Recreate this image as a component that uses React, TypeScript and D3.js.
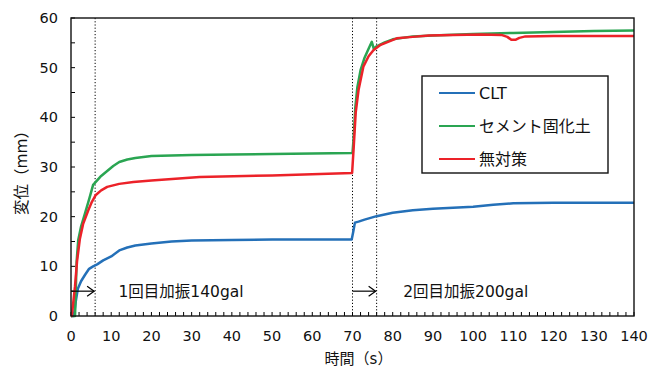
import React from "react";
import * as d3 from "d3";

// time (s) and displacement (mm)
const cltT = [0, 0.7, 1.2, 1.7, 2.5, 3.5, 4.5, 5.5, 6.5, 8, 10, 12, 14, 16, 20, 25, 30, 40, 50, 60, 69.8, 70.2, 70.6, 71.5, 73, 76, 80, 85, 90, 95, 100, 105, 110, 120, 130, 140];
const cltV = [0, 0, 3, 5.5, 7, 8.3, 9.5, 10, 10.4, 11.2, 12, 13.2, 13.8, 14.2, 14.6, 15, 15.2, 15.3, 15.4, 15.4, 15.4, 17, 18.8, 19, 19.4, 20.1, 20.8, 21.3, 21.6, 21.8, 22, 22.4, 22.7, 22.8, 22.8, 22.8];

const cementT = [0, 1, 1.4, 1.8, 2.5, 3.5, 4.5, 5.5, 6.5, 7.5, 9, 10.5, 12, 14, 16, 20, 30, 40, 50, 60, 70, 70.3, 70.7, 71.2, 72, 73, 74, 74.8, 75.3, 76, 78, 80, 85, 90, 100, 110, 120, 130, 140];
const cementV = [0, 0, 11, 15.3, 18, 20.7, 23.5, 26.4, 27.3, 28.2, 29.2, 30.2, 31, 31.5, 31.8, 32.2, 32.4, 32.5, 32.6, 32.7, 32.8, 36, 42, 46, 49.5, 52, 53.8, 55.2, 53.8, 54.3, 55.1, 55.7, 56.3, 56.5, 56.8, 57, 57.2, 57.4, 57.5];

const noneT = [0, 0.2, 1, 1.5, 2.2, 3, 4.3, 5.2, 6.1, 7.5, 9, 12, 15.5, 20, 32, 50, 69.9, 70.3, 70.8, 71.5, 72.7, 74, 75.2, 77, 81, 85, 89, 95, 102, 107, 108.5, 109.5, 110.5, 111.5, 113, 120, 130, 140];
const noneV = [0, 0, 6, 11, 15.5, 18.5, 21.3, 23, 24.3, 25.3, 26, 26.6, 27, 27.3, 28, 28.3, 28.8, 34, 41, 45.5, 50.2, 52.3, 53.5, 54.6, 55.9, 56.2, 56.5, 56.6, 56.7, 56.6, 56.2, 55.6, 55.6, 56, 56.3, 56.4, 56.4, 56.4];

const seriesNames = ["CLT", "セメント固化土", "無対策"];
const seriesColors = ["#2470b8", "#2aa552", "#ec2229"];

const xTicks = [0, 10, 20, 30, 40, 50, 60, 70, 80, 90, 100, 110, 120, 130, 140];
const yTicks = [0, 10, 20, 30, 40, 50, 60];
const markerTimes = [6, 70, 76];
const shakes = [
  { from: 0, to: 6, label: "1回目加振140gal", at: 11.8 },
  { from: 70, to: 76, label: "2回目加振200gal", at: 82.6 },
];

const W = 655, H = 371;
const left = 71, right = 634, top = 18, bottom = 316;
const font = "'DejaVu Sans', 'Noto Sans CJK JP', sans-serif";

export default function App() {
  const x = d3.scaleLinear().domain([0, 140]).range([left, right]);
  const y = d3.scaleLinear().domain([0, 60]).range([bottom, top]);

  const series = [
    { t: cltT, v: cltV },
    { t: cementT, v: cementV },
    { t: noneT, v: noneV },
  ];
  const path = (t: number[], v: number[]) =>
    d3.line<number>().x((_, i) => x(t[i])).y((_, i) => y(v[i]))(t);

  const minorX = d3.range(0, 141, 2);
  const minorY = d3.range(0, 61, 5);

  return (
    <svg width={W} height={H} style={{ position: "absolute", left: 0, top: 0, background: "#fff" }} fontFamily={font}>
      {/* inward ticks */}
      {minorX.map(t => (
        <line key={"xt" + t} x1={x(t)} x2={x(t)} y1={bottom} y2={bottom - 4} stroke="#000" strokeWidth={1} />
      ))}
      {minorY.map(v => (
        <line key={"yt" + v} x1={left} x2={left + 4} y1={y(v)} y2={y(v)} stroke="#000" strokeWidth={1} />
      ))}

      {markerTimes.map(t => (
        <line key={"m" + t} x1={x(t)} x2={x(t)} y1={top} y2={bottom} stroke="#000" strokeWidth={1} strokeDasharray="1.2,2" />
      ))}

      {series.map((s, i) => (
        <path key={i} d={path(s.t, s.v) || ""} fill="none" stroke={seriesColors[i]} strokeWidth={2.5} strokeLinejoin="round" />
      ))}

      {shakes.map(s => (
        <g key={s.label}>
          <line x1={x(s.from)} x2={x(s.to) - 1} y1={y(5)} y2={y(5)} stroke="#000" strokeWidth={1.2} />
          <path d={`M${x(s.to) - 8},${y(5) - 5} L${x(s.to) - 1},${y(5)} L${x(s.to) - 8},${y(5) + 5}`} fill="none" stroke="#000" strokeWidth={1.2} />
          <text x={x(s.at)} y={y(5) + 6} fontSize={15.5} fill="#111">{s.label}</text>
        </g>
      ))}

      <rect x={left} y={top} width={right - left} height={bottom - top} fill="none" stroke="#111" strokeWidth={1.4} />

      {xTicks.map(t => (
        <text key={"xl" + t} x={x(t)} y={bottom + 25} textAnchor="middle" fontSize={14.5} fill="#111">{t}</text>
      ))}
      {yTicks.map(v => (
        <text key={"yl" + v} x={left - 13} y={y(v) + 5} textAnchor="end" fontSize={14.5} fill="#111">{v}</text>
      ))}

      <text x={(left + right) / 2 + 6} y={H - 7} textAnchor="middle" fontSize={15} fill="#111">時間（s）</text>
      <text transform={`translate(27,${(top + bottom) / 2 + 2}) rotate(-90)`} textAnchor="middle" fontSize={15.5} fill="#111">変位（mm）</text>

      <g>
        <rect x={422} y={76} width={186} height={97} fill="#fff" stroke="#111" strokeWidth={1.4} />
        {seriesNames.map((n, i) => (
          <g key={n}>
            <line x1={439} x2={475} y1={93 + i * 33} y2={93 + i * 33} stroke={seriesColors[i]} strokeWidth={2} />
            <text x={479} y={93 + i * 33 + 6} fontSize={16} fill="#111">{n}</text>
          </g>
        ))}
      </g>
    </svg>
  );
}
